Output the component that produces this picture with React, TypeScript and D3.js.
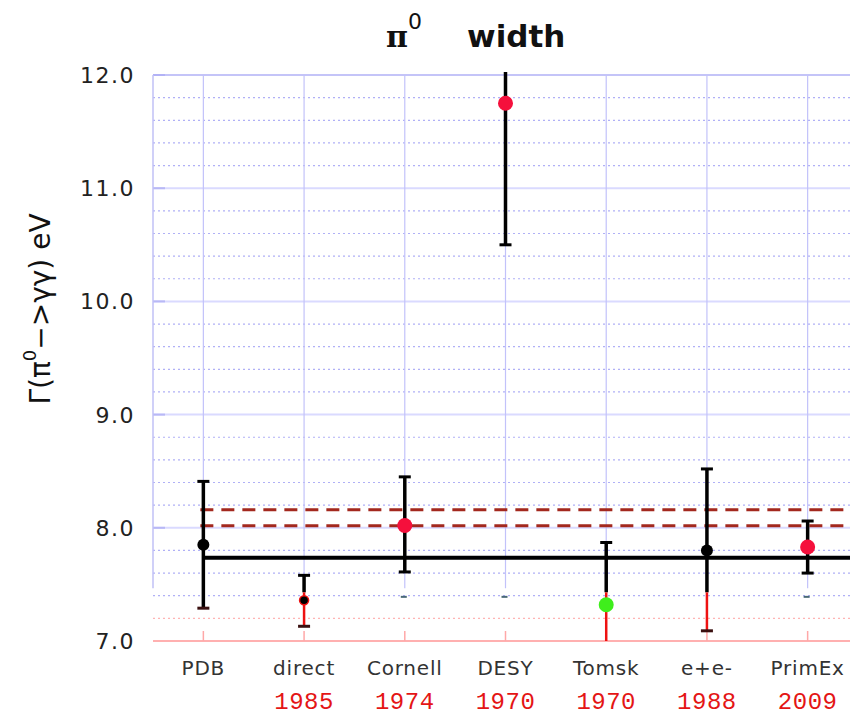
import { useEffect, useRef } from 'react';
import * as d3 from 'd3';

const categories = ["PDB", "direct", "Cornell", "DESY", "Tomsk", "e+e-", "PrimEx"];
const years = ["", "1985", "1974", "1970", "1970", "1988", "2009"];
const central = [7.85, 7.36, 8.02, 11.75, 7.32, 7.80, 7.83];
const upper = [8.41, 7.58, 8.45, 12.3, 7.87, 8.52, 8.06];
const lower = [7.29, 7.13, 7.61, 10.50, 6.9, 7.09, 7.60];
const method = ["avg", "direct", "primakoff", "primakoff", "tomsk", "collider", "primakoff"];
const twoTone = [false, true, false, false, true, true, false];
const strayCaps = ["Cornell", "DESY", "PrimEx"];

const pdgAverage = 7.735;
const bandLines = [8.018, 8.159];
const yMajor = [7, 8, 9, 10, 11, 12];
const yTickLabels = ["7.0", "8.0", "9.0", "10.0", "11.0", "12.0"];

const W = 850;
const H = 717;

const colorOf: Record<string, string> = {
  avg: "#000",
  direct: "#000",
  primakoff: "#f5103c",
  tomsk: "#3fee1c",
  collider: "#000",
};

function createChart() {
  const left = 153;
  const x = d3.scaleLinear().domain([-0.5, 6.5]).range([left, 858]);
  const y = d3.scaleLinear().domain([7, 12]).range([641, 75]);
  const split = 7.43; // below this the plot switches to the pink frame
  const idx = categories.map((_, i) => i);

  const svg = d3.create("svg")
    .attr("width", W)
    .attr("height", H)
    .attr("style", "position:absolute;left:0;top:0;background:#fff");

  svg.append("defs").append("clipPath").attr("id", "plotclip")
    .append("rect").attr("x", left).attr("y", 72).attr("width", W - left).attr("height", y(7) - 72);

  // grid
  const grid = svg.append("g");
  const minor = d3.range(7.2, 12.0001, 0.2).filter(v => Math.abs(v - Math.round(v)) > 0.01);
  grid.selectAll("line.minor").data(minor).join("line")
    .attr("x1", left).attr("x2", W)
    .attr("y1", d => y(d)).attr("y2", d => y(d))
    .attr("stroke", d => d < 7.3 ? "#ffb4b4" : "#b0b0f6")
    .attr("stroke-width", 1.2)
    .attr("stroke-dasharray", "2,3");
  grid.selectAll("line.major").data(yMajor.filter(v => v > 7 && v < 12)).join("line")
    .attr("x1", left).attr("x2", W)
    .attr("y1", d => y(d)).attr("y2", d => y(d))
    .attr("stroke", "#dadaff").attr("stroke-width", 2);
  grid.selectAll("line.mtick").data(yMajor.filter(v => v > 7)).join("line")
    .attr("x1", left).attr("x2", left + 12)
    .attr("y1", d => y(d)).attr("y2", d => y(d))
    .attr("stroke", "#b8b8f6").attr("stroke-width", 2);
  grid.append("line")
    .attr("x1", left).attr("x2", W).attr("y1", y(12)).attr("y2", y(12))
    .attr("stroke", "#b0b0f6").attr("stroke-width", 1.5);
  grid.selectAll("line.vgrid").data(idx).join("line")
    .attr("x1", i => x(i)).attr("x2", i => x(i))
    .attr("y1", y(12)).attr("y2", y(split) - 4)
    .attr("stroke", "#c2c2fa").attr("stroke-width", 1.2);
  grid.append("line")
    .attr("x1", left).attr("x2", left).attr("y1", y(12)).attr("y2", y(split) - 4)
    .attr("stroke", "#c0c0f6").attr("stroke-width", 1.5);

  // pink lower frame
  grid.append("line")
    .attr("x1", left).attr("x2", W).attr("y1", y(7)).attr("y2", y(7))
    .attr("stroke", "#ffb0b0").attr("stroke-width", 2);
  grid.selectAll("line.ptick").data(idx).join("line")
    .attr("x1", i => x(i)).attr("x2", i => x(i))
    .attr("y1", y(7) - 10).attr("y2", y(7))
    .attr("stroke", "#ffa8a8").attr("stroke-width", 1.5);

  // y tick labels
  svg.append("g").selectAll("text").data(yMajor).join("text")
    .attr("x", 135).attr("y", d => y(d)).attr("dy", "0.36em")
    .attr("text-anchor", "end")
    .attr("font-family", "DejaVu Sans").attr("font-size", 22)
    .attr("letter-spacing", 1.5)
    .attr("fill", "#222")
    .text((_, i) => yTickLabels[i]);

  const plot = svg.append("g").attr("clip-path", "url(#plotclip)");

  // reference lines
  plot.selectAll("line.band").data(bandLines).join("line")
    .attr("x1", x(0) - 3).attr("x2", W)
    .attr("y1", d => y(d)).attr("y2", d => y(d))
    .attr("stroke", "#a3281e").attr("stroke-width", 3)
    .attr("stroke-dasharray", "13,8");
  plot.append("line")
    .attr("x1", x(0)).attr("x2", W)
    .attr("y1", y(pdgAverage)).attr("y2", y(pdgAverage))
    .attr("stroke", "#000").attr("stroke-width", 4);

  // stray caps near the bottom
  plot.selectAll("line.stray").data(strayCaps).join("line")
    .attr("x1", d => x(categories.indexOf(d)) - 4).attr("x2", d => x(categories.indexOf(d)) + 2)
    .attr("y1", y(7.39)).attr("y2", y(7.39))
    .attr("stroke", "#4a6a78").attr("stroke-width", 2);

  // error bars
  const bars = plot.selectAll("g.bar").data(idx).join("g")
    .attr("transform", i => `translate(${x(i)},0)`);
  bars.append("line")
    .attr("y1", i => y(upper[i]))
    .attr("y2", i => twoTone[i] ? y(Math.max(lower[i], split)) : y(lower[i]))
    .attr("stroke", "#000").attr("stroke-width", 3.5);
  bars.filter(i => twoTone[i]).append("line")
    .attr("y1", y(split))
    .attr("y2", i => y(lower[i]))
    .attr("stroke", "#ee1111").attr("stroke-width", 2.5);
  bars.append("line")
    .attr("x1", -6).attr("x2", 6)
    .attr("y1", i => y(upper[i])).attr("y2", i => y(upper[i]))
    .attr("stroke", "#000").attr("stroke-width", 3);
  bars.append("line")
    .attr("x1", -6).attr("x2", 6)
    .attr("y1", i => y(lower[i])).attr("y2", i => y(lower[i]))
    .attr("stroke", i => lower[i] < split ? "#3a1010" : "#000").attr("stroke-width", 3);
  bars.append("circle")
    .attr("cy", i => y(central[i]))
    .attr("r", i => method[i] === "direct" ? 4.5 : method[i] === "avg" || method[i] === "collider" ? 6 : 7.5)
    .attr("fill", i => colorOf[method[i]])
    .attr("stroke", i => method[i] === "direct" ? "#ee1111" : "none")
    .attr("stroke-width", 1.5);

  // category labels and years
  svg.append("g").selectAll("text").data(idx).join("text")
    .attr("x", i => x(i)).attr("y", 675)
    .attr("text-anchor", "middle")
    .attr("font-family", "DejaVu Sans").attr("font-size", 20)
    .attr("letter-spacing", 0.8)
    .attr("fill", "#333")
    .text(i => categories[i]);
  svg.append("g").selectAll("text").data(idx).join("text")
    .attr("x", i => x(i)).attr("y", 709)
    .attr("text-anchor", "middle")
    .attr("font-family", "Liberation Mono").attr("font-size", 24)
    .attr("letter-spacing", 0.5)
    .attr("fill", "#e41515")
    .text(i => years[i]);

  // title
  const title = svg.append("text").attr("y", 47)
    .attr("font-family", "DejaVu Sans").attr("fill", "#111");
  title.append("tspan").attr("x", 386).attr("font-family", "DejaVu Serif")
    .attr("font-weight", "bold").attr("font-size", 30).text("π");
  title.append("tspan").attr("dy", -18).attr("font-size", 22).text("0");
  title.append("tspan").attr("x", 467).attr("y", 47)
    .attr("font-weight", "bold").attr("font-size", 31).text("width");

  // y axis label
  const yl = svg.append("text")
    .attr("transform", "translate(50,309) rotate(-90)")
    .attr("text-anchor", "middle")
    .attr("font-family", "DejaVu Sans").attr("font-size", 28).attr("fill", "#111");
  yl.append("tspan").text("Γ(π");
  yl.append("tspan").attr("dy", -14).attr("font-size", 18).text("0");
  yl.append("tspan").attr("dy", 14).text("−>γγ) eV");

  return svg.node();
}

export default function App() {
  const ref = useRef<HTMLDivElement>(null);

  useEffect(() => {
    const node = createChart();
    ref.current && node && ref.current.appendChild(node);
    return () => {
      if (ref.current && node && ref.current.contains(node)) ref.current.removeChild(node);
    };
  }, []);

  return <div ref={ref}></div>;
}
